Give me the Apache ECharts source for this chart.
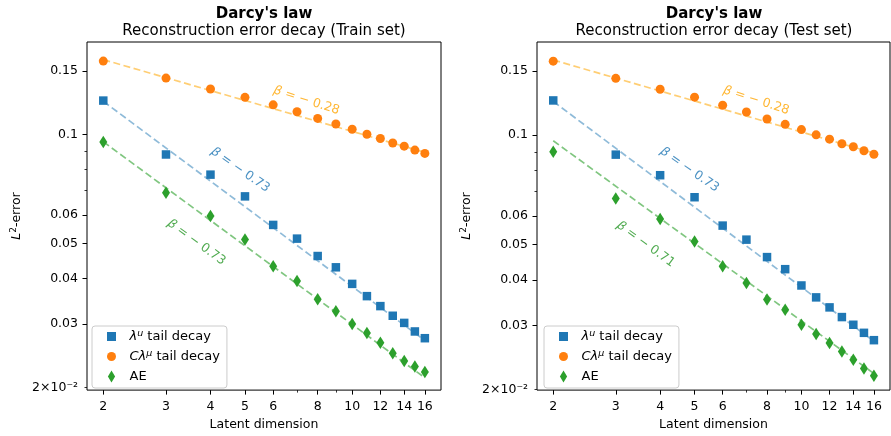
<!DOCTYPE html>
<html><head><meta charset="utf-8">
<script src="https://cdn.jsdelivr.net/npm/echarts@6/dist/echarts.min.js"></script>
<style>html,body{margin:0;padding:0;background:#fff}#c{width:891px;height:436px}</style>
</head><body><div id="c"></div>
<script>
// ---------- data ----------
const dims = [2, 3, 4, 5, 6, 7, 8, 9, 10, 11, 12, 13, 14, 15, 16];

const trainTail  = [0.1241, 0.0881, 0.0775, 0.0675, 0.0563, 0.0516, 0.0462, 0.0430, 0.0387, 0.0358, 0.0336, 0.0316, 0.0302, 0.0286, 0.0274];
const trainCTail = [0.1595, 0.1432, 0.1336, 0.1267, 0.1208, 0.1156, 0.1108, 0.1069, 0.1034, 0.1002, 0.0975, 0.0948, 0.0929, 0.0906, 0.0887];
const trainAE    = [0.0954, 0.0691, 0.0596, 0.0513, 0.0433, 0.0394, 0.0351, 0.0325, 0.0300, 0.0283, 0.0266, 0.0249, 0.0237, 0.0229, 0.0221];

const testTail  = [0.1246, 0.0884, 0.0776, 0.0675, 0.0564, 0.0516, 0.0462, 0.0428, 0.0386, 0.0358, 0.0336, 0.0316, 0.0301, 0.0286, 0.0273];
const testCTail = [0.1598, 0.1433, 0.1337, 0.1272, 0.1209, 0.1158, 0.1108, 0.1071, 0.1036, 0.1002, 0.0975, 0.0947, 0.0929, 0.0906, 0.0886];
const testAE    = [0.0901, 0.0670, 0.0588, 0.0510, 0.0436, 0.0392, 0.0353, 0.0331, 0.0301, 0.0284, 0.0268, 0.0254, 0.0241, 0.0228, 0.0218];

// fitted power-law lines (end points)
const fitX = [2, 16];
const trainFitTail  = [0.1235, 0.0270];
const trainFitCTail = [0.1610, 0.0893];
const trainFitAE    = [0.0955, 0.0213];
const testFitTail   = [0.1238, 0.0271];
const testFitCTail  = [0.1610, 0.0893];
const testFitAE     = [0.0965, 0.0221];

// slope annotations
const trainSlopeText = ['−0.28', '−0.73', '−0.73'];
const testSlopeText  = ['−0.28', '−0.73', '−0.71'];
const trainAnnX = [7.44, 4.85, 3.65];
const trainAnnY = [0.1241, 0.0798, 0.0504];
const testAnnX  = [7.46, 4.84, 3.64];
const testAnnY  = [0.1246, 0.0803, 0.0501];

// ticks
const xTickVals  = [2, 3, 4, 5, 6, 8, 10, 12, 14, 16];
const xMinorVals = [7, 9];
const yLabelVals = [0.02, 0.03, 0.04, 0.05, 0.06, 0.1, 0.15];
const yLabelText = ['2×10⁻²', '0.03', '0.04', '0.05', '0.06', '0.1', '0.15'];
const yMajorVals = [0.03, 0.04, 0.05, 0.06, 0.1, 0.15];
const yMinorVals = [0.02, 0.07, 0.08, 0.09];

const xRange = [1.80, 17.76];
const yRangeTrain = [0.0197, 0.1801];
const yRangeTest  = [0.0199, 0.1804];

const titles = ["Darcy's law", "Darcy's law"];
const subtitles = ['Reconstruction error decay (Train set)', 'Reconstruction error decay (Test set)'];
const seriesNames = ['tail', 'ctail', 'ae'];

// ---------- styling / build ----------
const L = Math.log10;
const FONT = 'DejaVu Sans';
const C_BLUE = '#1f77b4', C_ORANGE = '#ff7f0e', C_GREEN = '#2ca02c';
const TXT_ORANGE = '#ffa500', TXT_GREEN = '#259625';
const DIAMOND = 'path://M0,-10L6,0L0,10L-6,0Z';

function nearestText(v, vals, texts) {
  const r = Math.pow(10, v);
  let best = 0, bd = Infinity;
  vals.forEach((t, i) => { const d = Math.abs(Math.log(t / r)); if (d < bd) { bd = d; best = i; } });
  return texts[best];
}

const grids = [
  { left: 87, top: 42, width: 354, height: 351, show: true, borderColor: '#000', borderWidth: 1, backgroundColor: 'transparent' },
  { left: 537, top: 42, width: 353, height: 351, show: true, borderColor: '#000', borderWidth: 1, backgroundColor: 'transparent' }
];

const xAxes = [], yAxes = [];
[0, 1].forEach(g => {
  xAxes.push({
    type: 'value', gridIndex: g, position: 'bottom', min: L(xRange[0]), max: L(xRange[1]),
    name: 'Latent dimension', nameLocation: 'middle', nameGap: 27,
    nameTextStyle: { fontFamily: FONT, fontSize: 12.5, color: '#000' },
    axisLine: { show: false }, splitLine: { show: false },
    axisTick: { show: true, length: 4.5, customValues: xTickVals.map(L), lineStyle: { color: '#000', width: 1 } },
    axisLabel: { show: true, margin: 10, customValues: xTickVals.map(L), fontFamily: FONT, fontSize: 12.5, color: '#000',
      formatter: v => String(Math.round(Math.pow(10, v))) }
  });
  xAxes.push({
    type: 'value', gridIndex: g, position: 'bottom', min: L(xRange[0]), max: L(xRange[1]),
    axisLine: { show: false }, splitLine: { show: false }, axisLabel: { show: false },
    axisTick: { show: true, length: 2.5, customValues: xMinorVals.map(L), lineStyle: { color: '#000', width: 0.8 } }
  });
  const yr = g === 0 ? yRangeTrain : yRangeTest;
  yAxes.push({
    type: 'value', gridIndex: g, position: 'left', min: L(yr[0]), max: L(yr[1]),
    name: '{i|L}{sup|2}-error', nameLocation: 'middle', nameGap: 62, nameRotate: 90,
    nameTextStyle: { fontFamily: FONT, fontSize: 12.5, color: '#000', lineHeight: 16,
      rich: { i: { fontFamily: FONT, fontSize: 12.5, fontStyle: 'italic', color: '#000' },
              sup: { fontFamily: FONT, fontSize: 9, color: '#000', verticalAlign: 'top', lineHeight: 9 } } },
    axisLine: { show: false }, splitLine: { show: false },
    axisTick: { show: true, length: 4.5, customValues: yMajorVals.map(L), lineStyle: { color: '#000', width: 1 } },
    axisLabel: { show: true, margin: 9, customValues: yLabelVals.map(L), fontFamily: FONT, fontSize: 12.5, color: '#000',
      formatter: v => nearestText(v, yLabelVals, yLabelText) }
  });
  yAxes.push({
    type: 'value', gridIndex: g, position: 'left', min: L(yr[0]), max: L(yr[1]),
    axisLine: { show: false }, splitLine: { show: false }, axisLabel: { show: false },
    axisTick: { show: true, length: 2.5, customValues: yMinorVals.map(L), lineStyle: { color: '#000', width: 0.8 } }
  });
});

function pts(xs, ys) { return xs.map((x, i) => [L(x), L(ys[i])]); }

const series = [];
const panels = [
  { tail: trainTail, ctail: trainCTail, ae: trainAE, fTail: trainFitTail, fCTail: trainFitCTail, fAE: trainFitAE,
    annX: trainAnnX, annY: trainAnnY, annT: trainSlopeText },
  { tail: testTail, ctail: testCTail, ae: testAE, fTail: testFitTail, fCTail: testFitCTail, fAE: testFitAE,
    annX: testAnnX, annY: testAnnY, annT: testSlopeText }
];
panels.forEach((p, g) => {
  const xi = g * 2, yi = g * 2;
  const dash = (data, color) => ({
    type: 'line', xAxisIndex: xi, yAxisIndex: yi, data, symbol: 'none', silent: true, z: 2,
    lineStyle: { color, width: 1.7, type: [7, 3.5] }, animation: false
  });
  series.push(dash(pts(fitX, p.fTail), 'rgba(31,119,180,0.5)'));
  series.push(dash(pts(fitX, p.fCTail), 'rgba(255,165,0,0.55)'));
  series.push(dash(pts(fitX, p.fAE), 'rgba(44,160,44,0.6)'));
  series.push({ type: 'scatter', name: seriesNames[0], xAxisIndex: xi, yAxisIndex: yi, data: pts(dims, p.tail),
    symbol: 'rect', symbolSize: 8.5, itemStyle: { color: C_BLUE, opacity: 1 }, z: 4, animation: false });
  series.push({ type: 'scatter', name: seriesNames[1], xAxisIndex: xi, yAxisIndex: yi, data: pts(dims, p.ctail),
    symbol: 'circle', symbolSize: 9, itemStyle: { color: C_ORANGE, opacity: 1 }, z: 4, animation: false });
  series.push({ type: 'scatter', name: seriesNames[2], xAxisIndex: xi, yAxisIndex: yi, data: pts(dims, p.ae),
    symbol: DIAMOND, symbolSize: [8, 12.5], itemStyle: { color: C_GREEN, opacity: 1 }, z: 4, animation: false });
  const annColors = [TXT_ORANGE, C_BLUE, TXT_GREEN];
  const annRot = [-18, -35, -36];
  series.push({
    type: 'scatter', xAxisIndex: xi, yAxisIndex: yi, symbolSize: 0, silent: true, z: 5, animation: false,
    data: p.annX.map((x, i) => ({
      value: [L(x), L(p.annY[i])],
      label: { show: true, position: 'inside', rotate: annRot[i], color: annColors[i],
        formatter: '{b|β} = ' + p.annT[i].replace('−', '− '),
        fontFamily: FONT, fontSize: 12.5,
        rich: { b: { fontFamily: FONT, fontSize: 12.5, fontStyle: 'italic', color: annColors[i] } } }
    }))
  });
});

const legendNames = {
  tail: '{i|λ}{sup|u} tail decay',
  ctail: '{i|Cλ}{sup|μ} tail decay',
  ae: 'AE'
};
// icons padded with invisible move points so all fit a 12px-high box
const SQ_ICON = 'path://M0,0M0,12M-4.5,1.5h9v9h-9z';
const CI_ICON = 'path://M0,0M0,12M4.5,6A4.5,4.5,0,1,1,-4.5,6A4.5,4.5,0,1,1,4.5,6z';
const legends = [92, 544].map(left => ({
  left, top: 326, orient: 'vertical', padding: [3, 7, 4, 15], itemGap: 5, itemWidth: 26, itemHeight: 12,
  backgroundColor: 'rgba(255,255,255,0.8)', borderColor: '#cccccc', borderWidth: 1, borderRadius: 3,
  selectedMode: false,
  data: [{ name: 'tail', icon: SQ_ICON }, { name: 'ctail', icon: CI_ICON }, { name: 'ae', icon: DIAMOND }],
  formatter: n => legendNames[n],
  textStyle: { fontFamily: FONT, fontSize: 13, color: '#000', lineHeight: 15,
    rich: { i: { fontFamily: FONT, fontSize: 13, fontStyle: 'italic', color: '#000' },
            sup: { fontFamily: FONT, fontSize: 9.5, fontStyle: 'italic', color: '#000', verticalAlign: 'top', lineHeight: 9 } } }
}));

const titleComps = [264, 714].map((x, i) => ({
  text: titles[i], subtext: subtitles[i], left: x, top: 5.5, textAlign: 'center', padding: 0, itemGap: 0,
  textStyle: { fontFamily: FONT, fontSize: 15, fontWeight: 'bold', color: '#000', lineHeight: 17 },
  subtextStyle: { fontFamily: FONT, fontSize: 15, color: '#000', lineHeight: 17 }
}));

const chart = echarts.init(document.getElementById('c'), null, { renderer: 'canvas' });
chart.setOption({
  animation: false,
  backgroundColor: '#fff',
  title: titleComps,
  grid: grids,
  xAxis: xAxes,
  yAxis: yAxes,
  legend: legends,
  series
});
</script></body></html>
